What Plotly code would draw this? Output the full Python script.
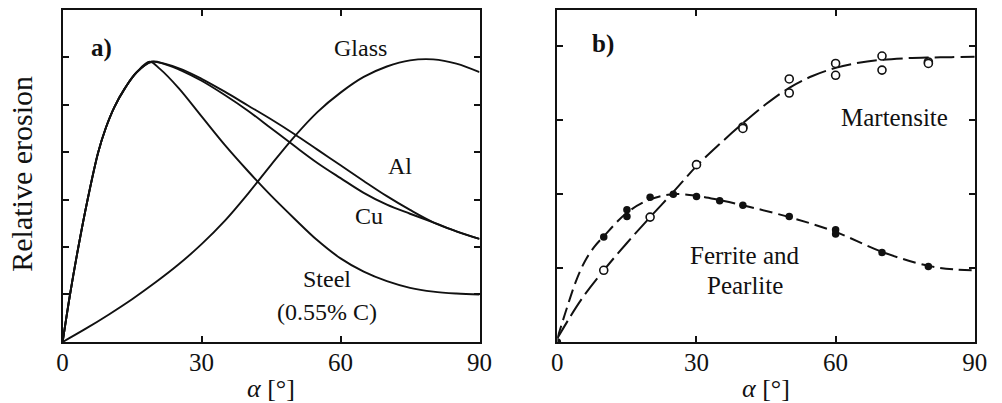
import plotly.graph_objects as go

# ---------------- Panel a) data ----------------
rise_x = [0, 1.6, 3.4, 5.4, 7.7, 9.3, 11.2, 13.5, 16]
rise_y = [0, 1.0, 2.0, 3.0, 4.0, 4.5, 4.95, 5.35, 5.68]

steel_x = rise_x + [18.8, 21, 25, 30, 35, 40, 45, 50, 55, 60, 65, 70, 75, 80, 85, 90]
steel_y = rise_y + [5.9, 5.75, 5.35, 4.75, 4.15, 3.6, 3.08, 2.6, 2.14, 1.76, 1.48, 1.28, 1.14, 1.06, 1.02, 1.0]

al_x = rise_x + [19.2, 22, 26, 30, 35, 40, 45, 50, 55, 60, 65, 70, 75, 80, 85, 90]
al_y = rise_y + [5.9, 5.86, 5.73, 5.54, 5.27, 4.98, 4.69, 4.38, 4.05, 3.72, 3.39, 3.07, 2.78, 2.52, 2.33, 2.17]

cu_x = rise_x + [19.2, 22, 26, 30, 35, 40, 45, 50, 55, 60, 65, 70, 75, 80, 85, 90]
cu_y = rise_y + [5.9, 5.85, 5.7, 5.5, 5.2, 4.87, 4.5, 4.13, 3.77, 3.45, 3.14, 2.89, 2.7, 2.52, 2.33, 2.17]

glass_x = [0, 5, 10, 15, 20, 25, 30, 35, 40, 45, 50, 55, 60, 65, 70, 75, 80, 85, 90]
glass_y = [0, 0.28, 0.58, 0.9, 1.25, 1.63, 2.06, 2.55, 3.12, 3.73, 4.32, 4.84, 5.25, 5.58, 5.8, 5.93, 5.95, 5.86, 5.68]

a_yticks = [1, 2, 3, 4, 5, 6]

# ---------------- Panel b) data ----------------
fer_pts_x = [0, 10, 15, 15, 20, 25, 30, 35, 40, 50, 60, 60, 70, 80]
fer_pts_y = [0, 1.42, 1.79, 1.70, 1.96, 2.0, 1.97, 1.91, 1.85, 1.70, 1.52, 1.46, 1.21, 1.02]

fer_fit_x = [0, 2, 4, 6, 8, 10, 15, 20, 25, 30, 35, 40, 50, 60, 70, 80, 86, 90]
fer_fit_y = [0.05, 0.45, 0.82, 1.1, 1.29, 1.43, 1.75, 1.93, 2.0, 1.98, 1.92, 1.85, 1.69, 1.49, 1.22, 1.03, 0.98, 0.97]

mar_pts_x = [10, 20, 30, 40, 40, 50, 50, 60, 60, 70, 70, 80, 80]
mar_pts_y = [0.97, 1.69, 2.40, 2.91, 2.89, 3.56, 3.37, 3.77, 3.61, 3.87, 3.68, 3.79, 3.77]

mar_fit_x = [0, 5, 10, 15, 20, 25, 30, 35, 40, 45, 50, 55, 60, 65, 70, 75, 80, 85, 90]
mar_fit_y = [0.05, 0.56, 0.97, 1.34, 1.69, 2.03, 2.38, 2.68, 2.96, 3.22, 3.44, 3.6, 3.71, 3.78, 3.82, 3.84, 3.85, 3.855, 3.86]

b_yticks = [1, 2, 3, 4]
x_ticks = [0, 30, 60, 90]

FONT = "Liberation Serif"
INK = "#111111"

fig = go.Figure()

for xs, ys in [(glass_x, glass_y), (steel_x, steel_y), (al_x, al_y), (cu_x, cu_y)]:
    fig.add_trace(go.Scatter(x=xs, y=ys, mode="lines", xaxis="x", yaxis="y",
                             line=dict(color=INK, width=1.9, shape="spline", smoothing=1.0),
                             hoverinfo="skip"))

fig.add_trace(go.Scatter(x=fer_fit_x, y=fer_fit_y, mode="lines", xaxis="x2", yaxis="y2",
                         line=dict(color=INK, width=2, dash="13px,6px", shape="spline", smoothing=1.0)))
fig.add_trace(go.Scatter(x=mar_fit_x, y=mar_fit_y, mode="lines", xaxis="x2", yaxis="y2",
                         line=dict(color=INK, width=2, dash="20px,6px", shape="spline", smoothing=1.0)))
fig.add_trace(go.Scatter(x=fer_pts_x, y=fer_pts_y, mode="markers", xaxis="x2", yaxis="y2",
                         marker=dict(symbol="circle", size=7.5, color=INK)))
fig.add_trace(go.Scatter(x=mar_pts_x, y=mar_pts_y, mode="markers", xaxis="x2", yaxis="y2",
                         marker=dict(symbol="circle", size=8, color="white", line=dict(color=INK, width=1.6))))

axis_common = dict(showline=True, linewidth=2, linecolor=INK, mirror="ticks", ticks="inside",
                   ticklen=6, tickwidth=1.5, tickcolor=INK, showgrid=False, zeroline=False)

ydom = [0.1514, 0.9764]
fig.update_layout(
    width=1002, height=403, margin=dict(l=0, r=0, t=0, b=0),
    plot_bgcolor="white", paper_bgcolor="white", showlegend=False,
    font=dict(family=FONT, size=24, color=INK),
    xaxis=dict(domain=[0.0576, 0.4817], range=[0, 90], tickvals=x_ticks, anchor="y",
               ticklabelstandoff=-3, tickfont=dict(size=25), **axis_common),
    yaxis=dict(domain=ydom, range=[0, 7], tickvals=a_yticks, showticklabels=False, anchor="x",
               **axis_common),
    xaxis2=dict(domain=[0.5609, 0.9855], range=[0, 90], tickvals=x_ticks, anchor="y2",
                ticklabelstandoff=-3, tickfont=dict(size=25), **axis_common),
    yaxis2=dict(domain=ydom, range=[0, 4.5], tickvals=b_yticks, showticklabels=False, anchor="x2",
                **axis_common),
)

def ann(text, x, y, xref, yref, size=24, **kw):
    fig.add_annotation(text=text, x=x, y=y, xref=xref, yref=yref, showarrow=False,
                       font=dict(family=FONT, size=size, color=INK),
                       xanchor="center", yanchor="middle", **kw)

# panel a labels
ann("<b>a)</b>", 8.3, 6.19, "x", "y", size=25)
ann("Glass", 64.2, 6.19, "x", "y")
ann("Al", 72.9, 3.70, "x", "y")
ann("Cu", 66.1, 2.65, "x", "y")
ann("Steel", 57.0, 1.32, "x", "y")
ann("(0.55% C)", 57.0, 0.63, "x", "y")
# panel b labels
ann("<b>b)</b>", 9.9, 4.03, "x2", "y2", size=25)
ann("Martensite", 72.6, 3.04, "x2", "y2", size=25)
ann("Ferrite and", 40.4, 1.17, "x2", "y2", size=25)
ann("Pearlite", 40.4, 0.76, "x2", "y2", size=25)
# axis titles
ann("<i>α</i> [°]", 270 / 1002, 1 - 388 / 403, "paper", "paper", size=26)
ann("<i>α</i> [°]", 775 / 1002, 1 - 388 / 403, "paper", "paper", size=26)
ann("Relative erosion", 15 / 1002, 1 - 174 / 403, "paper", "paper", size=30, textangle=-90)

fig.write_html("out.html")
